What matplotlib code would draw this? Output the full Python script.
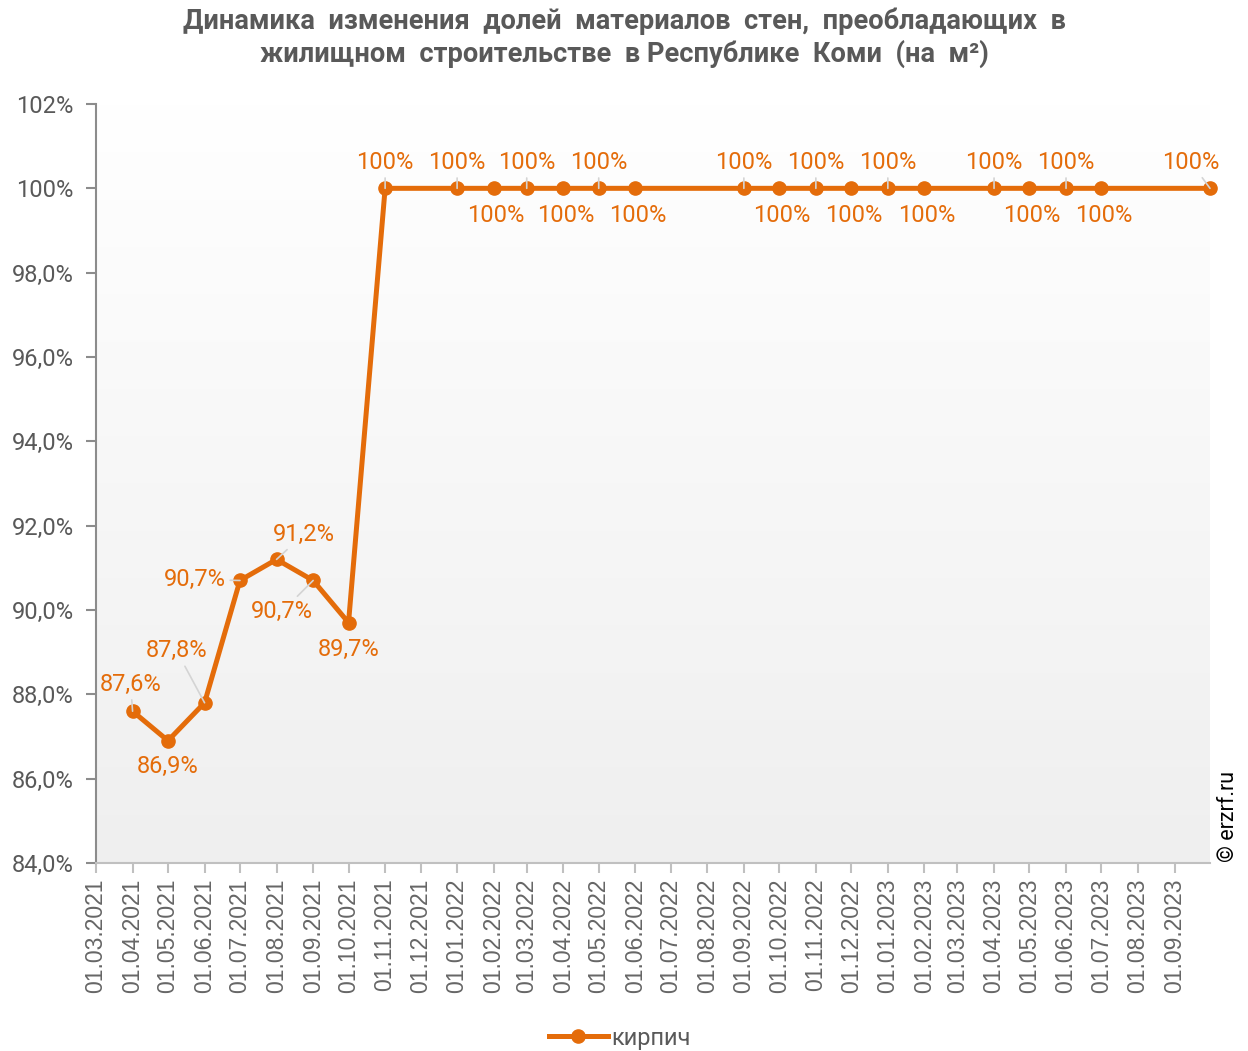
import matplotlib
matplotlib.use("Agg")
import matplotlib.pyplot as plt
import matplotlib.dates as mdates
import numpy as np
import pandas as pd
from matplotlib.colors import LinearSegmentedColormap

# ---- data ----
dates = ["01.04.2021", "01.05.2021", "01.06.2021", "01.07.2021", "01.08.2021",
         "01.09.2021", "01.10.2021", "01.11.2021", "01.01.2022", "01.02.2022",
         "01.03.2022", "01.04.2022", "01.05.2022", "01.06.2022", "01.09.2022",
         "01.10.2022", "01.11.2022", "01.12.2022", "01.01.2023", "01.02.2023",
         "01.04.2023", "01.05.2023", "01.06.2023", "01.07.2023", "01.10.2023"]
values = [87.6, 86.9, 87.8, 90.7, 91.2, 90.7, 89.7, 100, 100, 100,
          100, 100, 100, 100, 100, 100, 100, 100, 100, 100,
          100, 100, 100, 100, 100]
labels = ["87,6%", "86,9%", "87,8%", "90,7%", "91,2%", "90,7%", "89,7%"] + ["100%"] * 18
tick_start, tick_end, axis_end = "01.03.2021", "01.09.2023", "01.10.2023"
yticks = [84, 86, 88, 90, 92, 94, 96, 98, 100, 102]
ytick_labels = ["84,0%", "86,0%", "88,0%", "90,0%", "92,0%", "94,0%", "96,0%", "98,0%", "100%", "102%"]
series_name = "кирпич"
title = ("Динамика  изменения  долей  материалов  стен,  преобладающих  в\n"
         "жилищном  строительстве  в Республике  Коми  (на  м²)")

# label offsets in pixels (dx, dy) and leader-line flags (style)
A, B = (0, 26), (2, -27)
label_offsets = [(-2, 27), (0, -26), (-28, 52), (-45, 1), (27, 25), (-31, -31), (0, -27),
                 A, A, B, A, B, A, B, A, B, A, B, A, B, A, B, A, B, (-19, 26)]
leaders = [True, False, True, True, True, True, False,
           True, True, False, True, False, True, False, True, False, True, False,
           True, False, True, False, True, False, True]

ORANGE = "#E46C0A"
GRAY = "#595959"

x = pd.to_datetime(dates, format="%d.%m.%Y")
ticks = pd.date_range(pd.to_datetime(tick_start, format="%d.%m.%Y"),
                      pd.to_datetime(tick_end, format="%d.%m.%Y"), freq="MS")
xmin = pd.to_datetime(tick_start, format="%d.%m.%Y")
xmax = pd.to_datetime(axis_end, format="%d.%m.%Y")

plt.rcParams['font.family'] = ['Roboto', 'DejaVu Sans']

fig = plt.figure(figsize=(12.48, 10.51), dpi=100)
ax = fig.add_axes([96 / 1248, 188 / 1051, (1210 - 96) / 1248, (863 - 104) / 1051])

# gradient background
cmap = LinearSegmentedColormap.from_list("bg", ["#ffffff", "#efefef"])
grad = np.linspace(0, 1, 256).reshape(-1, 1)
ax.imshow(grad, aspect="auto", cmap=cmap, origin="upper",
          extent=[mdates.date2num(xmin), mdates.date2num(xmax), yticks[0], yticks[-1]],
          zorder=0)

ax.plot(x, values, color=ORANGE, lw=3.6, marker="o", ms=9.5, zorder=3,
        solid_joinstyle="round", label=series_name, clip_on=False)

for xi, v, lab, off, ld in zip(x, values, labels, label_offsets, leaders):
    ax.annotate(lab, (xi, v), xytext=off, textcoords="offset pixels",
                ha="center", va="center", fontsize=17, color=ORANGE, zorder=4,
                annotation_clip=False,
                arrowprops=dict(arrowstyle="-", color="#d4d4d4", lw=1.2,
                                shrinkA=1, shrinkB=0) if ld else None)

ax.set_xlim(xmin, xmax)
ax.set_ylim(yticks[0], yticks[-1])
ax.set_yticks(yticks)
ax.set_yticklabels(ytick_labels)
ax.set_xticks(ticks)
ax.set_xticklabels([t.strftime("%d.%m.%Y") for t in ticks], rotation=90,
                   family="Liberation Sans")

for s in ["top", "right"]:
    ax.spines[s].set_visible(False)
ax.spines["left"].set_color("#8c8c8c")
ax.spines["left"].set_linewidth(1.5)
ax.spines["bottom"].set_color("#c0c0c0")
ax.spines["bottom"].set_linewidth(1.5)
ax.tick_params(axis="y", colors="#8c8c8c", labelcolor=GRAY, labelsize=17,
               length=7, width=1.5, pad=9)
ax.tick_params(axis="x", colors="#c0c0c0", labelcolor="#666666", labelsize=16.5,
               length=7, width=1.5, pad=4)

fig.text(0.5, 1 - 38 / 1051, title, ha="center", va="center", fontsize=19.6,
         fontweight="bold", color=GRAY, linespacing=1.2)

fig.text(1228 / 1248, 1 - 816 / 1051, "© erzrf.ru", rotation=90, ha="center",
         va="center", fontsize=15.5, color="black")

leg = fig.legend(loc="center", bbox_to_anchor=(620 / 1248, 1 - 1038 / 1051),
                 frameon=False, fontsize=17, handlelength=2.5, handletextpad=0.15)
for t in leg.get_texts():
    t.set_color(GRAY)

fig.savefig("out.png", dpi=100)
